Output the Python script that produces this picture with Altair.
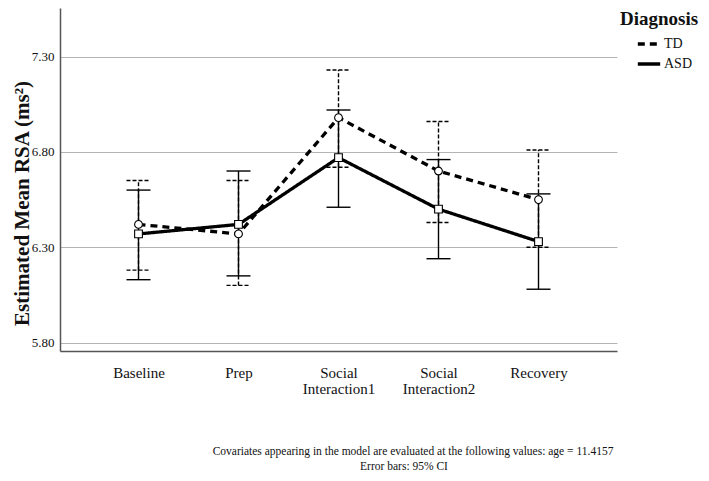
import altair as alt
import pandas as pd

categories = ["Baseline", "Prep", "Social Interaction1", "Social Interaction2", "Recovery"]
groups = ["TD", "ASD"]
td_mean = [6.42, 6.37, 6.98, 6.70, 6.55]
td_lo = [6.18, 6.10, 6.72, 6.43, 6.30]
td_hi = [6.65, 6.65, 7.23, 6.96, 6.81]
asd_mean = [6.37, 6.42, 6.77, 6.50, 6.33]
asd_lo = [6.13, 6.15, 6.51, 6.24, 6.08]
asd_hi = [6.60, 6.70, 7.02, 6.76, 6.58]
y_ticks = [5.8, 6.3, 6.8, 7.3]
note1 = "Covariates appearing in the model are evaluated at the following values: age = 11.4157"
note2 = "Error bars: 95% CI"

rows = []
for i, c in enumerate(categories):
    rows.append({"Time": c, "Diagnosis": "TD", "mean": td_mean[i], "lo": td_lo[i], "hi": td_hi[i]})
    rows.append({"Time": c, "Diagnosis": "ASD", "mean": asd_mean[i], "lo": asd_lo[i], "hi": asd_hi[i]})
df = pd.DataFrame(rows)

FONT = "Liberation Serif"
W, H = 557, 343

x = alt.X("Time:N", sort=categories,
          scale=alt.Scale(type="point", padding=0.785),
          axis=alt.Axis(title=None, labelAngle=0, labelFontSize=15, labelFont=FONT,
                        labelColor="#111", tickSize=0, labelPadding=14, labelLineHeight=16,
                        domainColor="#555", domainWidth=1.5, grid=False,
                        labelExpr="indexof(datum.label, ' ') > 0 ? split(datum.label, ' ') : datum.label"))
y_scale = alt.Scale(domain=[5.756, 7.555], nice=False, zero=False)
y = alt.Y("mean:Q", scale=y_scale,
          axis=alt.Axis(title="Estimated Mean RSA (ms²)", values=y_ticks, format=".2f",
                        titleFont=FONT, titleFontSize=21, titleFontWeight="bold", titleColor="#111",
                        titleX=-38, titleY=195, titleAngle=-90, titleBaseline="middle",
                        labelFont=FONT, labelFontSize=13, labelColor="#111", labelPadding=6,
                        tickSize=0, domainColor="#555", domainWidth=1.5,
                        grid=True, gridColor="#b4b4b4", gridWidth=1))

base = alt.Chart(df)

lines = base.mark_line(color="black", strokeWidth=3.3).encode(
    x=x, y=y,
    strokeDash=alt.StrokeDash("Diagnosis:N",
                              scale=alt.Scale(domain=groups, range=[[7, 5], [1, 0]]),
                              legend=alt.Legend(title="Diagnosis", orient="none", legendX=560, legendY=2,
                                                titleFont=FONT, titleFontSize=19, titleFontWeight="bold",
                                                titleColor="#111", labelFont=FONT, labelFontSize=14,
                                                labelColor="#111", symbolType="stroke", symbolSize=500,
                                                symbolStrokeWidth=3.5, symbolStrokeColor="black",
                                                symbolOffset=16, labelOffset=2, rowPadding=0,
                                                titlePadding=2))
)

def errbars(group, dash):
    sub = base.transform_filter(alt.datum.Diagnosis == group)
    kw = dict(color="black", strokeWidth=1.4)
    if dash:
        kw["strokeDash"] = dash
    vert = sub.mark_rule(**kw).encode(x=x, y=alt.Y("lo:Q", scale=y_scale), y2="hi:Q")
    cap_lo = sub.mark_rule(xOffset=-12, x2Offset=12, **kw).encode(
        x=x, x2=alt.X2("Time:N"), y=alt.Y("lo:Q", scale=y_scale))
    cap_hi = sub.mark_rule(xOffset=-12, x2Offset=12, **kw).encode(
        x=x, x2=alt.X2("Time:N"), y=alt.Y("hi:Q", scale=y_scale))
    return [vert, cap_lo, cap_hi]

eb = errbars("TD", [4, 2]) + errbars("ASD", None)

def pts(group, shape):
    return base.transform_filter(alt.datum.Diagnosis == group).mark_point(
        shape=shape, filled=True, fill="white", stroke="black", strokeWidth=1.1, size=60, opacity=1
    ).encode(x=x, y=y)

notes = alt.Chart(pd.DataFrame({"t": [note1, note2], "px": [353, 344], "py": [444, 459]})).mark_text(
    font=FONT, fontSize=11.5, color="#111", align="center", baseline="middle"
).encode(text="t:N", x=alt.X("px:Q", scale=None), y=alt.Y("py:Q", scale=None))

chart = alt.layer(*eb, lines, pts("TD", "circle"), pts("ASD", "square"), notes).properties(
    width=W, height=H, autosize="none",
    padding={"left": 52, "top": 0, "right": 84, "bottom": 122}
).configure(background="white").configure_view(strokeWidth=0, stroke=None)

chart.save("out.html", embed_options={"renderer": "svg", "actions": False})
